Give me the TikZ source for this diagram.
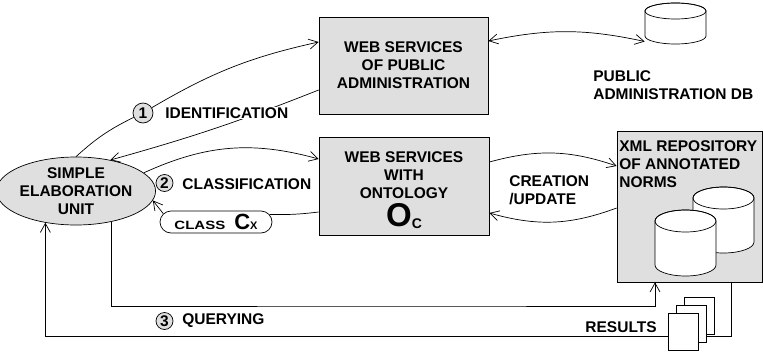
\documentclass[tikz,border=0pt]{standalone}
\usepackage{fontspec}
\setmainfont{Liberation Sans}
\usepackage{graphicx}
\usetikzlibrary{arrows.meta,shapes.geometric,shapes.misc}

% drum: centre x, centre y, half width, half height, end radius
\newcommand{\drum}[5]{%
  \filldraw[fill=white] (#1-#3,#2-#4+#5) -- (#1-#3,#2+#4-#5)
     arc[start angle=180, end angle=0, x radius=#3, y radius=#5]
     -- (#1+#3,#2-#4+#5)
     arc[start angle=0, end angle=-180, x radius=#3, y radius=#5] -- cycle;
  \draw (#1,#2-#4+#5) ellipse[x radius=#3, y radius=#5];}

\begin{document}
\begin{tikzpicture}[x=1pt,y=-1pt,
    font=\bfseries\fontsize{15.5}{18}\selectfont,
    line width=0.7pt, >={Straight Barb[length=9pt,width=10pt]},
    servicebox/.style ={rectangle, draw, fill=gray!25, align=center, inner sep=0pt},
    unit/.style ={ellipse, draw, fill=gray!25, align=center, inner sep=0pt, minimum width=141pt, minimum height=68pt},
    stepnum/.style ={circle, draw, fill=gray!25, inner sep=0pt, minimum size=17pt},
    sheet/.style ={rectangle, draw, fill=white, inner sep=0pt, minimum width=30pt, minimum height=37pt},
    bubble/.style ={rounded rectangle, draw, fill=white, inner sep=0pt, minimum width=112pt, minimum height=22pt}]
   \useasboundingbox (0,0) rectangle (763,351);
   % services and stores
   \node[servicebox, minimum width=169pt, minimum height=97pt] (wspa) at (403.5,65.5) {WEB SERVICES\\OF PUBLIC\\ADMINISTRATION};
   \node[servicebox, minimum width=170pt, minimum height=98pt] (wso) at (404,186) {\rule{0pt}{19pt}WEB SERVICES\\WITH\\ONTOLOGY\\[4pt]{\fontsize{33}{33}\selectfont O}\raisebox{-2pt}{\fontsize{14}{14}\selectfont C}};
   \node[servicebox, minimum width=145pt, minimum height=151pt] (xml) at (689.5,206.5) {};
   \node[anchor=north west, align=left, inner sep=0pt] (xmltext) at (619,140) {XML REPOSITORY\\OF ANNOTATED\\NORMS};
   \drum{723.5}{220}{30.5}{33}{11}
   \drum{685.5}{243}{30.5}{33}{11}
   \node[minimum width=61pt, minimum height=41pt, inner sep=0pt] (pdb) at (675.5,23.5) {};
   \drum{675.5}{23.5}{30.5}{20.5}{8}
   \node[anchor=north west, align=left, inner sep=0pt] (pdbtext) at (593,70) {PUBLIC\\ADMINISTRATION DB};
   \node[unit] (seu) at (76,191) {SIMPLE\\ELABORATION\\UNIT};
   % results
   \node[sheet] (pgc) at (699.5,315.5) {};
   \node[sheet] (pgb) at (691.5,323.5) {};
   \node[sheet] (pga) at (683.5,331.5) {};
   \node[anchor=east, inner sep=0pt] (res) at (657,327) {RESULTS};
   % steps
   \node[stepnum, minimum size=20pt] (n1) at (143,113) {1};
   \node[stepnum] (n2) at (164.5,183) {2};
   \node[stepnum] (n3) at (164.5,321) {3};
   \node[bubble] (cls) at (216,222) {\scalebox{1.25}[1]{\fontsize{12}{12}\selectfont CLASS}\hspace{9pt}{\fontsize{22}{22}\selectfont C}{\fontsize{11}{11}\selectfont X}};
   % connectors
   \draw (seu.north) to[bend left=8] (n1);
   \draw[->] (n1) to[bend left=9] ([yshift=23.5pt]wspa.west);
   \draw[->] ([yshift=-24.5pt]wspa.west) to[bend left=3] (seu.42);
   \draw[<->] ([yshift=24.5pt]wspa.east) to[bend left=12] ([yshift=-18pt]pdb.west);
   \draw[->] (seu.15) to[bend left=20] ([yshift=27pt]wso.west);
   \draw ([yshift=-26pt]wso.west) to[bend left=4] (cls.8);
   \draw[->] (cls.171) to (seu.-7);
   \draw[->] ([yshift=24pt]wso.east) to[bend left=17] ([yshift=40.5pt]xml.west);
   \draw[->] ([yshift=-1.5pt]xml.west) to[bend left=18] ([yshift=-27pt]wso.east);
   \coordinate (qry) at (400,306);
   \draw[->] (seu.-41) |- (qry) -| ([xshift=-34.5pt]xml.south);
   \draw ([xshift=41.5pt]xml.south) |- ([yshift=-12.5pt]pgb.east);
   \draw[->] ([yshift=-4.5pt]pga.west) -| (seu.-134);
   % labels
   \node[anchor=west, fill=white, inner sep=1pt] (lid) at (164,113) {IDENTIFICATION};
   \node[anchor=west, inner sep=0pt] (lcl) at (182,184) {CLASSIFICATION};
   \node[anchor=west, inner sep=0pt] (lqu) at (182,321) {QUERYING};
   \node[anchor=west, align=left, inner sep=0pt] (lcu) at (509,190) {CREATION\\/UPDATE};
\end{tikzpicture}
\end{document}
